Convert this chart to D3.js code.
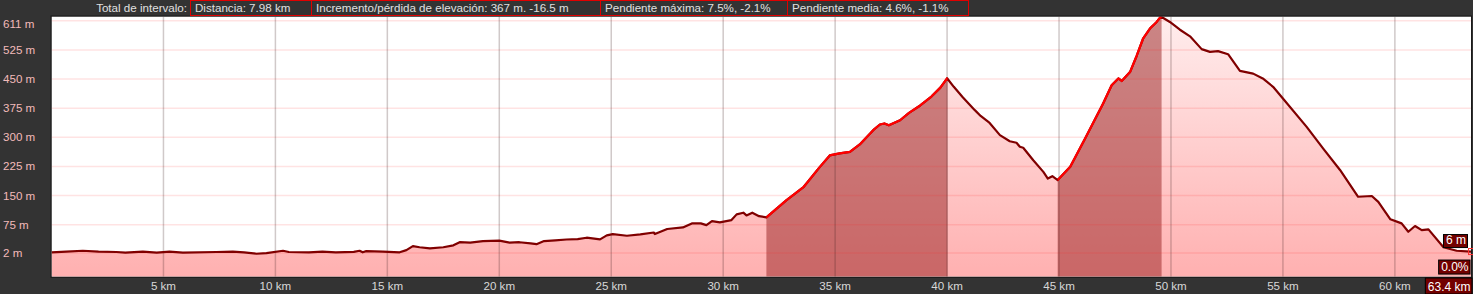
<!DOCTYPE html>
<html>
<head>
<meta charset="utf-8">
<script src="https://cdn.jsdelivr.net/npm/d3@7"></script>
<style>
  body { margin: 0; background: #333; }
  svg { display: block; font-family: "Liberation Sans", Arial, sans-serif; font-size: 11.6px; }
</style>
</head>
<body>
<script>
// distance (km) and elevation (m) read from the profile
const kms = [0, 0.66, 1.4, 2.1, 2.9, 3.3, 4.08, 4.7, 5.27, 5.87, 7.36, 8.1, 8.6, 9.15, 9.6, 10.34, 10.6, 11.5, 12.1, 12.7, 13.5, 13.76, 13.9, 14.06, 14.8, 15.55, 15.85, 16.14, 16.44, 16.9, 17.5, 17.95, 18.23, 18.7, 19.27, 20.0, 20.46, 20.9, 21.4, 21.66, 22.0, 22.5, 23.0, 23.5, 23.9, 24.5, 24.8, 25.07, 25.7, 26.3, 26.9, 26.95, 27.5, 28.2, 28.6, 29.0, 29.25, 29.5, 29.85, 30.37, 30.6, 30.9, 31.04, 31.3, 31.6, 31.93, 32.83, 33.6, 34.3, 34.76, 35.2, 35.66, 36.1, 36.7, 37.0, 37.2, 37.4, 37.9, 38.3, 38.8, 39.3, 39.7, 40.0, 40.3, 40.7, 41.24, 41.5, 41.9, 42.36, 42.8, 43.1, 43.25, 43.4, 43.85, 44.3, 44.5, 44.7, 44.94, 45.5, 46.2, 46.97, 47.35, 47.65, 47.8, 48.17, 48.47, 48.76, 49.06, 49.36, 49.55, 49.95, 50.4, 50.85, 51.37, 51.74, 52.1, 52.55, 53.08, 53.67, 54.1, 54.56, 55.0, 56.06, 56.8, 57.55, 58.36, 58.97, 59.26, 59.8, 60.3, 60.6, 60.9, 61.2, 61.5, 62.17, 62.76, 63.4];
const elev = [4, 5.6, 8, 5.6, 4.8, 3, 5.6, 3, 5.6, 3, 4.8, 5.6, 4, 0.4, 2, 8, 4.8, 4, 5.6, 4, 5, 8, 4, 7, 5.6, 4, 9.6, 20, 17, 14, 17, 22, 30, 29, 33, 34, 29, 30, 27, 25, 33, 35, 37, 38, 41.6, 37.4, 47.7, 51, 46.7, 50, 55, 51, 64, 68, 78.5, 78.5, 74, 84.5, 81, 87, 101.7, 106, 99, 106, 97, 94, 138.5, 172.7, 222.6, 253.4, 258.6, 262.7, 281.7, 318.5, 333, 335.7, 331, 344, 363, 382, 405, 428, 452, 430, 403, 370, 355, 337, 305.6, 290, 286, 275.6, 273, 241, 211, 194, 200, 190, 224, 301, 387, 434, 451.5, 445, 468, 510, 555, 580, 597, 611, 597, 577, 560, 527, 520, 522, 514, 471, 464, 451.5, 430, 400, 327, 271, 216, 147, 149, 134, 89, 78.6, 57, 71.7, 61, 63, 17, 8, 6];

const yTicks = [2, 75, 150, 225, 300, 375, 450, 525, 600];
const yTickLabels = ["2 m", "75 m", "150 m", "225 m", "300 m", "375 m", "450 m", "525 m", "611 m"];
const xTicks = [5, 10, 15, 20, 25, 30, 35, 40, 45, 50, 55, 60];

const highlights = [[31.93, 40.02], [44.94, 49.58]];

const infoTitle = "Total de intervalo:";
const infoItems = ["Distancia: 7.98 km", "Incremento/pérdida de elevación: 367 m. -16.5 m", "Pendiente máxima: 7.5%, -2.1%", "Pendiente media: 4.6%, -1.1%"];
const endSlope = "0.0%";
const totalKm = 63.4;

const data = kms.map((k, i) => ({km: k, ele: elev[i]}));

const w = 1473, h = 294;
const plot = {left: 51.5, right: 1471, top: 16.5, bottom: 276.8};

const svg = d3.select("body").append("svg")
    .attr("width", w)
    .attr("height", h);

let x = d3.scaleLinear().domain([0, totalKm]).range([plot.left, plot.right]);
let y = d3.scaleLinear().domain([-59, 611]).range([plot.bottom, plot.top]);

const defs = svg.append("defs");
const grad = defs.append("linearGradient")
    .attr("id", "fillGrad")
    .attr("gradientUnits", "userSpaceOnUse")
    .attr("x1", 0).attr("x2", 0)
    .attr("y1", plot.top).attr("y2", plot.bottom);
grad.append("stop").attr("offset", 0).attr("stop-color", "#ffeded");
grad.append("stop").attr("offset", 1).attr("stop-color", "#ffb0b0");

let area = d3.area()
    .x(d => x(d.km))
    .y0(plot.bottom)
    .y1(d => y(d.ele));

let line = d3.line()
    .x(d => x(d.km))
    .y(d => y(d.ele));

defs.append("clipPath").attr("id", "under")
    .append("path").datum(data).attr("d", area);

defs.append("clipPath").attr("id", "plotClip")
    .append("rect")
    .attr("x", plot.left).attr("y", plot.top)
    .attr("width", plot.right - plot.left)
    .attr("height", plot.bottom - plot.top);

const hiClip = defs.append("clipPath").attr("id", "hiClip");
highlights.forEach(r => {
    hiClip.append("rect")
        .attr("x", x(r[0])).attr("y", 0)
        .attr("width", x(r[1]) - x(r[0]))
        .attr("height", h);
});

// plot background
svg.append("rect")
    .attr("x", plot.left).attr("y", plot.top)
    .attr("width", plot.right - plot.left)
    .attr("height", plot.bottom - plot.top)
    .attr("fill", "#fff");

const g = svg.append("g").attr("clip-path", "url(#plotClip)");

g.append("path")
    .datum(data)
    .attr("d", area)
    .attr("fill", "url(#fillGrad)");

// selected intervals
g.append("g")
    .attr("clip-path", "url(#under)")
    .selectAll("rect")
    .data(highlights)
    .enter().append("rect")
    .attr("x", d => x(d[0]))
    .attr("y", plot.top)
    .attr("width", d => x(d[1]) - x(d[0]))
    .attr("height", plot.bottom - plot.top)
    .attr("fill", "rgba(150,30,30,0.5)");

// grid
g.append("g")
    .selectAll("line")
    .data(yTicks)
    .enter().append("line")
    .attr("x1", plot.left).attr("x2", plot.right)
    .attr("y1", d => y(d)).attr("y2", d => y(d))
    .attr("stroke", "rgba(255,40,40,0.13)")
    .attr("stroke-width", 1.5);

g.append("g")
    .selectAll("line")
    .data(xTicks)
    .enter().append("line")
    .attr("x1", d => x(d)).attr("x2", d => x(d))
    .attr("y1", plot.top).attr("y2", plot.bottom)
    .attr("stroke", "rgba(60,30,30,0.24)")
    .attr("stroke-width", 1.5);

g.append("path")
    .datum(data)
    .attr("d", line)
    .attr("fill", "none")
    .attr("stroke", "#800000")
    .attr("stroke-width", 2.2)
    .attr("stroke-linejoin", "round");

g.append("path")
    .datum(data)
    .attr("d", line)
    .attr("clip-path", "url(#hiClip)")
    .attr("fill", "none")
    .attr("stroke", "#ff0000")
    .attr("stroke-width", 2.2)
    .attr("stroke-linejoin", "round");

// border
svg.append("rect")
    .attr("x", plot.left - 0.5).attr("y", plot.top - 0.5)
    .attr("width", plot.right - plot.left + 1)
    .attr("height", plot.bottom - plot.top + 1)
    .attr("fill", "none")
    .attr("stroke", "#1a1a1a");

// y labels
svg.append("g")
    .selectAll("text")
    .data(yTicks)
    .enter().append("text")
    .attr("x", 3)
    .attr("y", d => Math.max(y(d) + 4, 28))
    .attr("fill", "#f2baba")
    .text((d, i) => yTickLabels[i]);

// x labels
svg.append("g")
    .selectAll("text")
    .data(xTicks)
    .enter().append("text")
    .attr("x", d => x(d))
    .attr("y", 290)
    .attr("text-anchor", "middle")
    .attr("fill", "#d8d8d8")
    .text(d => `${d} km`);

// info bar
svg.append("text")
    .attr("x", 187)
    .attr("y", 12)
    .attr("text-anchor", "end")
    .attr("fill", "#e0e0e0")
    .text(infoTitle);

const edges = [190, 311, 600, 787, 968];
infoItems.forEach((t, i) => {
    svg.append("rect")
        .attr("x", edges[i] + 0.5).attr("y", 0.5)
        .attr("width", edges[i + 1] - edges[i])
        .attr("height", 15)
        .attr("fill", "none")
        .attr("stroke", "#e00000");
    svg.append("text")
        .attr("x", edges[i] + 5)
        .attr("y", 12)
        .attr("fill", "#e0e0e0")
        .text(t);
});

// end-of-track labels
const last = data[data.length - 1];
function tag(txt, right, top, hgt) {
    const tg = svg.append("g");
    const box = tg.append("rect");
    const t = tg.append("text")
        .attr("y", top + hgt - 3)
        .attr("fill", "#fff")
        .attr("font-size", 12)
        .text(txt);
    const tw = t.node().getComputedTextLength();
    t.attr("x", right - tw - 2);
    box.attr("x", right - tw - 4.5).attr("y", top + 0.5)
        .attr("width", tw + 4).attr("height", hgt)
        .attr("fill", "#720000")
        .attr("stroke", "#000");
}
tag(`${Math.round(last.ele)} m`, 1468, y(last.ele) - 17.5, 13);
tag(endSlope, 1470.5, y(last.ele) + 8, 14);
tag(`${totalKm} km`, 1472.5, 277.5, 16);

svg.append("rect")
    .attr("x", x(last.km) - 2.5).attr("y", y(last.ele) - 3)
    .attr("width", 5).attr("height", 6)
    .attr("fill", "none")
    .attr("stroke", "#ff3030")
    .attr("stroke-width", 1);
</script>
</body>
</html>
